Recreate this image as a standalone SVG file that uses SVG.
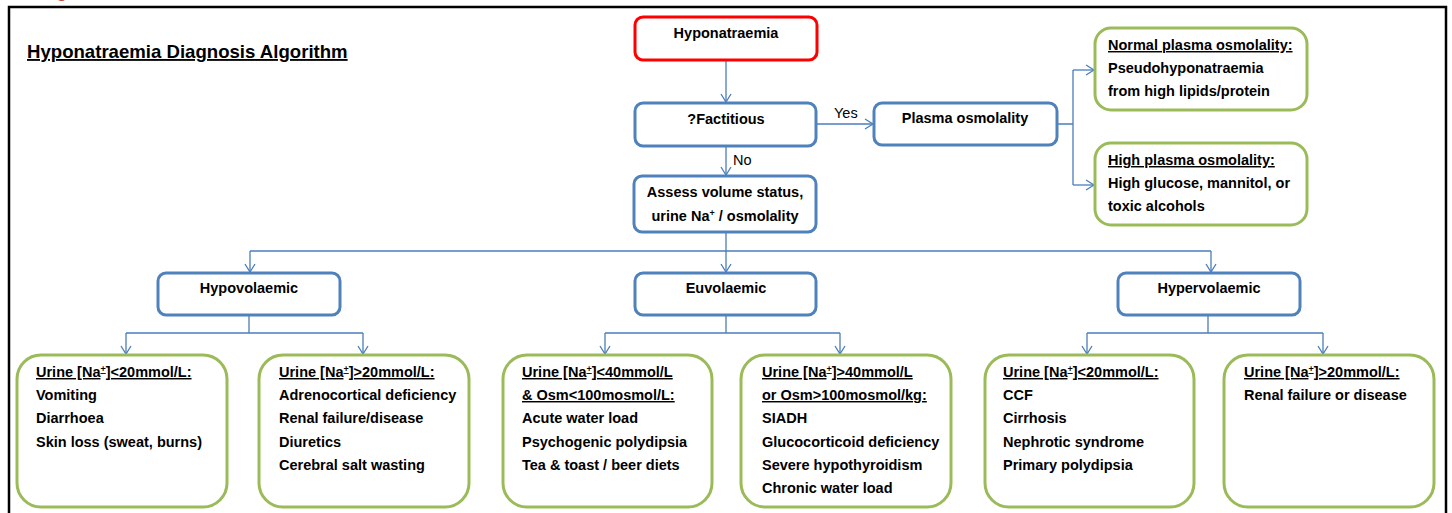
<svg xmlns="http://www.w3.org/2000/svg" width="1452" height="513" viewBox="0 0 1452 513">
<style>
text{font-family:"Liberation Sans",Arial,sans-serif;font-weight:bold;font-size:14.5px;fill:#000}
.c{text-anchor:middle}
.u{text-decoration:underline}
.reg{font-weight:normal}
.blue{fill:#fff;stroke:#4f81bd;stroke-width:3}
.red{fill:#fff;stroke:#ff0000;stroke-width:3}
.green{fill:#fff;stroke:#9bbb59;stroke-width:3}
.ln{fill:none;stroke:#4a7ebb;stroke-width:1.3}
.sup{font-size:9px;baseline-shift:5px}
</style>
<defs>
<marker id="a" markerUnits="userSpaceOnUse" markerWidth="12" markerHeight="12" viewBox="0 0 12 12" refX="10" refY="6" orient="auto">
<path d="M2,1 L10,6 L2,11" fill="none" stroke="#4a7ebb" stroke-width="1.3"/>
</marker>
</defs>
<rect width="1452" height="513" fill="#fff"/>
<text x="56" y="-3" class="reg" style="font-size:20px;fill:#c0504d">g</text>
<path d="M9,513 V7 H1446 V513" fill="none" stroke="#000" stroke-width="2.5"/>
<text x="27" y="58" class="u" style="font-size:18.6px">Hyponatraemia Diagnosis Algorithm</text>

<g id="connectors">
<path class="ln" d="M726,60 V102" marker-end="url(#a)"/>
<path class="ln" d="M816,124 H873" marker-end="url(#a)"/>
<path class="ln" d="M726,146 V175" marker-end="url(#a)"/>
<path class="ln" d="M1057,124 H1073 M1073,70 V185"/>
<path class="ln" d="M1073,70 H1094" marker-end="url(#a)"/>
<path class="ln" d="M1073,185 H1094" marker-end="url(#a)"/>
<path class="ln" d="M726,232 V251 M250,251 H1211"/>
<path class="ln" d="M250,251 V272" marker-end="url(#a)"/>
<path class="ln" d="M726,251 V272" marker-end="url(#a)"/>
<path class="ln" d="M1211,251 V272" marker-end="url(#a)"/>
<path class="ln" d="M249,315 V333 M126,333 H363"/>
<path class="ln" d="M126,333 V354" marker-end="url(#a)"/>
<path class="ln" d="M363,333 V354" marker-end="url(#a)"/>
<path class="ln" d="M726,315 V333 M605,333 H840"/>
<path class="ln" d="M605,333 V354" marker-end="url(#a)"/>
<path class="ln" d="M840,333 V354" marker-end="url(#a)"/>
<path class="ln" d="M1208,315 V333 M1087,333 H1323"/>
<path class="ln" d="M1087,333 V354" marker-end="url(#a)"/>
<path class="ln" d="M1323,333 V354" marker-end="url(#a)"/>
<text x="834" y="118" class="reg">Yes</text>
<text x="733" y="165" class="reg">No</text>
</g>

<g id="hyponatraemia">
<rect class="red" x="635" y="17" width="182" height="43" rx="8"/>
<text class="c" x="726" y="38">Hyponatraemia</text>
</g>
<g id="factitious">
<rect class="blue" x="635" y="103" width="181" height="43" rx="8"/>
<text class="c" x="726" y="124">?Factitious</text>
</g>
<g id="plasma">
<rect class="blue" x="874" y="103" width="183" height="42" rx="8"/>
<text class="c" x="965" y="123">Plasma osmolality</text>
</g>
<g id="assess">
<rect class="blue" x="634" y="176" width="182" height="56" rx="8"/>
<text class="c" x="725" y="197">Assess volume status,</text>
<text class="c" x="725" y="221">urine Na<tspan class="sup">+</tspan> / osmolality</text>
</g>
<g id="normal">
<rect class="green" x="1095" y="28" width="212" height="82" rx="16"/>
<text x="1108" y="50" class="u">Normal plasma osmolality:</text>
<text x="1108" y="73">Pseudohyponatraemia</text>
<text x="1108" y="96">from high lipids/protein</text>
</g>
<g id="high">
<rect class="green" x="1095" y="143" width="212" height="82" rx="16"/>
<text x="1108" y="165" class="u">High plasma osmolality:</text>
<text x="1108" y="188">High glucose, mannitol, or</text>
<text x="1108" y="211">toxic alcohols</text>
</g>
<g id="hypovolaemic">
<rect class="blue" x="158" y="273" width="182" height="42" rx="8"/>
<text class="c" x="249" y="293">Hypovolaemic</text>
</g>
<g id="euvolaemic">
<rect class="blue" x="635" y="273" width="181" height="42" rx="8"/>
<text class="c" x="726" y="293">Euvolaemic</text>
</g>
<g id="hypervolaemic">
<rect class="blue" x="1118" y="273" width="182" height="42" rx="8"/>
<text class="c" x="1209" y="293">Hypervolaemic</text>
</g>

<g id="hypo-low">
<rect class="green" x="17" y="355" width="210" height="152" rx="24"/>
<text x="36" y="377" class="u">Urine [Na<tspan class="sup">+</tspan>]&lt;20mmol/L:</text>
<text x="36" y="400">Vomiting</text>
<text x="36" y="423">Diarrhoea</text>
<text x="36" y="447">Skin loss (sweat, burns)</text>
</g>
<g id="hypo-high">
<rect class="green" x="259" y="355" width="210" height="152" rx="24"/>
<text x="279" y="377" class="u">Urine [Na<tspan class="sup">+</tspan>]&gt;20mmol/L:</text>
<text x="279" y="400">Adrenocortical deficiency</text>
<text x="279" y="423">Renal failure/disease</text>
<text x="279" y="447">Diuretics</text>
<text x="279" y="470">Cerebral salt wasting</text>
</g>
<g id="euvo-low">
<rect class="green" x="503" y="355" width="209" height="152" rx="24"/>
<text x="522" y="377" class="u">Urine [Na<tspan class="sup">+</tspan>]&lt;40mmol/L</text>
<text x="522" y="400" class="u">&amp; Osm&lt;100mosmol/L:</text>
<text x="522" y="423">Acute water load</text>
<text x="522" y="447">Psychogenic polydipsia</text>
<text x="522" y="470">Tea &amp; toast / beer diets</text>
</g>
<g id="euvo-high">
<rect class="green" x="741" y="355" width="210" height="152" rx="24"/>
<text x="762" y="377" class="u">Urine [Na<tspan class="sup">+</tspan>]&gt;40mmol/L</text>
<text x="762" y="400" class="u">or Osm&gt;100mosmol/kg:</text>
<text x="762" y="423">SIADH</text>
<text x="762" y="447">Glucocorticoid deficiency</text>
<text x="762" y="470">Severe hypothyroidism</text>
<text x="762" y="493">Chronic water load</text>
</g>
<g id="hyper-low">
<rect class="green" x="985" y="355" width="209" height="152" rx="24"/>
<text x="1003" y="377" class="u">Urine [Na<tspan class="sup">+</tspan>]&lt;20mmol/L:</text>
<text x="1003" y="400">CCF</text>
<text x="1003" y="423">Cirrhosis</text>
<text x="1003" y="447">Nephrotic syndrome</text>
<text x="1003" y="470">Primary polydipsia</text>
</g>
<g id="hyper-high">
<rect class="green" x="1224" y="355" width="210" height="152" rx="24"/>
<text x="1244" y="377" class="u">Urine [Na<tspan class="sup">+</tspan>]&gt;20mmol/L:</text>
<text x="1244" y="400">Renal failure or disease</text>
</g>
</svg>
